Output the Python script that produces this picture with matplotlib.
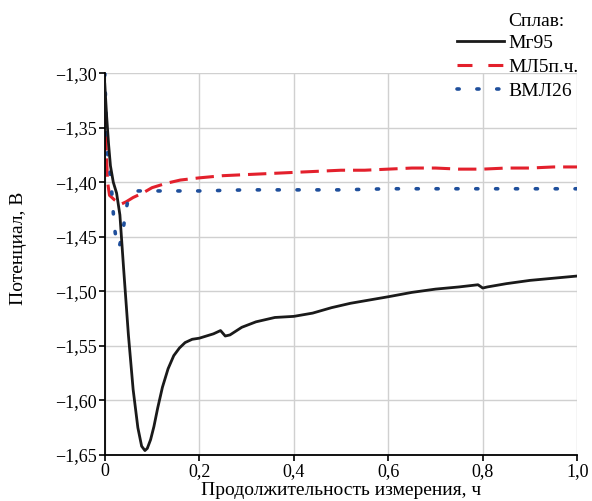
import numpy as np
import matplotlib.pyplot as plt
from matplotlib.lines import Line2D
from matplotlib.ticker import FuncFormatter

plt.rcParams['font.family'] = ['Liberation Serif', 'DejaVu Serif']

# Mg95
t_mg = [0.0, 0.004, 0.008, 0.012, 0.018, 0.025, 0.032, 0.04, 0.05, 0.06, 0.07, 0.078, 0.085,
        0.09, 0.097, 0.104, 0.112, 0.122, 0.134, 0.146, 0.158, 0.17, 0.185, 0.2, 0.215, 0.23, 0.245,
        0.255, 0.265, 0.29, 0.32, 0.36, 0.4, 0.44, 0.48, 0.52, 0.56, 0.6, 0.65, 0.7, 0.75, 0.79,
        0.8, 0.81, 0.85, 0.9, 0.95, 1.0]
u_mg = [-1.31, -1.34, -1.365, -1.385, -1.40, -1.41, -1.43, -1.48, -1.54, -1.59, -1.625, -1.642, -1.646,
        -1.644, -1.636, -1.624, -1.607, -1.588, -1.571, -1.559, -1.552, -1.547, -1.544, -1.543, -1.541, -1.539, -1.536,
        -1.541, -1.540, -1.533, -1.528, -1.524, -1.523, -1.52, -1.515, -1.511, -1.508, -1.505, -1.501, -1.498, -1.496, -1.494,
        -1.497, -1.496, -1.493, -1.490, -1.488, -1.486]

# МЛ5п.ч.
t_ml5 = [0.0, 0.003, 0.006, 0.01, 0.015, 0.02, 0.027, 0.035, 0.045, 0.06, 0.08, 0.1, 0.13, 0.16,
         0.2, 0.25, 0.3, 0.35, 0.4, 0.45, 0.5, 0.55, 0.6, 0.65, 0.7, 0.75, 0.8, 0.85, 0.9, 0.95, 1.0]
u_ml5 = [-1.33, -1.37, -1.40, -1.412, -1.414, -1.416, -1.418, -1.42, -1.418, -1.414, -1.41, -1.405, -1.401, -1.398,
         -1.396, -1.394, -1.393, -1.392, -1.391, -1.390, -1.389, -1.389, -1.388, -1.387, -1.387, -1.388, -1.388, -1.387, -1.387, -1.386, -1.386]

# ВМЛ26
t_vml = [0.0, 0.002, 0.004, 0.007, 0.01, 0.015, 0.02, 0.025, 0.03, 0.035, 0.04, 0.045, 0.05, 0.06,
         0.07, 0.09, 0.12, 0.2, 0.3, 0.4, 0.5, 0.6, 0.7, 0.8, 0.9, 1.0]
u_vml = [-1.30, -1.33, -1.36, -1.38, -1.385, -1.41, -1.44, -1.455, -1.46, -1.452, -1.44, -1.425, -1.415, -1.41,
         -1.408, -1.408, -1.408, -1.408, -1.407, -1.407, -1.407, -1.406, -1.406, -1.406, -1.406, -1.406]

names = ['Mг95', 'МЛ5п.ч.', 'ВМЛ26']

fig = plt.figure(figsize=(5.92, 5.01), dpi=100)
ax = fig.add_axes([0.177, 0.092, 0.798, 0.762])

ax.plot(t_mg, u_mg, color='#1a1a1a', lw=2.0, zorder=3)
ax.plot(t_ml5, u_ml5, color='#e3202c', lw=2.2, dashes=(6, 2.6), zorder=2)
ax.plot(t_vml, u_vml, color='#1f4f9c', lw=2.6, dashes=(0.6, 4.9), dash_capstyle='round', zorder=2)

ax.set_xlim(0, 1.0)
ax.set_ylim(-1.65, -1.30)
ax.set_xticks(np.arange(0, 1.01, 0.2))
ax.set_yticks(np.arange(-1.65, -1.299, 0.05))
ax.xaxis.set_major_formatter(FuncFormatter(lambda v, p: '0' if abs(v) < 1e-9 else f'{v:.1f}'.replace('.', ',')))
ax.yaxis.set_major_formatter(FuncFormatter(lambda v, p: f'{v:.2f}'.replace('.', ',').replace('-', '\u2212')))
ax.tick_params(labelsize=13, direction='out', length=4, width=1.2, pad=2)
ax.grid(True, color='#d0d0d0', lw=1.0)
ax.spines['top'].set_visible(False)
ax.spines['right'].set_visible(False)
ax.spines['left'].set_linewidth(1.3)
ax.spines['bottom'].set_linewidth(1.3)

ax.set_xlabel('Продолжительность измерения, ч', fontsize=14, labelpad=1.5)
ax.set_ylabel('Потенциал, В', fontsize=14)
ax.yaxis.set_label_coords(-0.165, 0.54)

# legend
handles = [Line2D([], [], color='#1a1a1a', lw=2.0),
           Line2D([], [], color='#e3202c', lw=2.2, dashes=(4.9, 5.2)),
           Line2D([], [], color='#1f4f9c', lw=2.6, dashes=(0.6, 4.9), dash_capstyle='round')]
fig.text(508 / 592, 1 - 22 / 501, 'Сплав:', fontsize=14, va='center', ha='left')
fig.legend(handles, names, loc='upper left', bbox_to_anchor=(457 / 592, 1 - 34 / 501), frameon=False,
           fontsize=14, handlelength=2.4, handletextpad=0.25, labelspacing=0.33, borderpad=0, borderaxespad=0)

fig.savefig('out.png', dpi=100)
